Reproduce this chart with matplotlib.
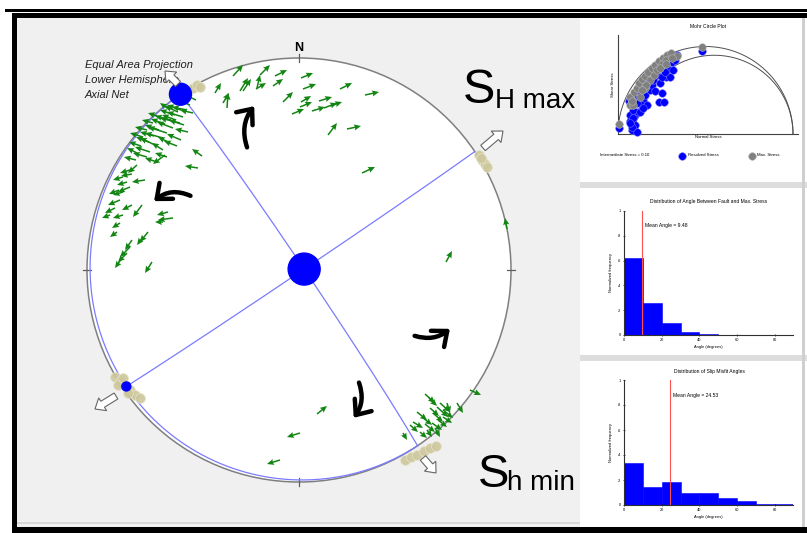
import numpy as np
import matplotlib
matplotlib.use("Agg")
import matplotlib.pyplot as plt
from matplotlib import patches as mpatches

W, H = 807, 533
plt.rcParams['font.family'] = ['Liberation Sans', 'DejaVu Sans']

# ---------------- data ----------------
NET_R = 212  # stereonet radius in plot units

# principal stress axes (trend, plunge) in degrees
sigma1 = (326, 0)
sigma2 = (80, 88)
sigma3 = (236, 2)

# slip vectors on the net: tail position (x east, y north) and arrow components
slip_x = [-66, -84, -76, -72, -59, -56, -42, -43, -39, -24, -26, 2, 4, -16, 2, 1, -7, 20, 13, 25, 31, 41, 66, 29, 48, 63, 208, 147,
          -109, -112, -116, -119, -111, -126, -132, -136, -129, -144, -149, -136, -97, -101, -132, -134, -152, -162,
          -129, -139, -146, -152, -156, -154, -162, -169, -176, -169, -176, -179, -167, -184, -189, -176, -157, -131,
          -126, -136, -179, -182, -151, -156, -167, -169, -172, -177, -147, -103, -106, -121, -123,
          -114, -118, -124, -128, -134, -140, -145, -150, -158, -163, -167, -172, -180, -118, -122, -142, -115,
          126, 130, 171, 158, 141, 118, 123, 114, 111, 104, 134, 144, 133, 136, 128, 121, 138, 144, 148, 131, 139, 126,
          -19, 1, 18]
slip_y = [194, 177, 167, 162, 179, 179, 182, 181, 195, 194, 184, 192, 181, 168, 168, 163, 156, 169, 159, 162, 164, 181, 175, 135, 141, 97, 41, 8,
          165, 160, 153, 147, 138, 142, 137, 132, 127, 125, 118, 120, 114, 102, 113, 115, 113, 117,
          160, 153, 147, 140, 133, 90, 105, 100, 93, 83, 78, 70, 65, 62, 55, 55, 65, 58,
          52, 48, 47, 38, 38, 33, 30, 23, 17, 12, 8, 170, 157, 158, 150,
          166, 160, 155, 150, 146, 140, 134, 128, 124, 110, 96, 88, 80, 130, 124, 108, 145,
          -124, -128, -120, -133, -133, -142, -147, -152, -155, -163, -143, -147, -153, -158, -160, -162, -137, -140, -133, -138, -150, -154,
          -190, -163, -144]
slip_u = [10, 6, 6, 1, 8, 8, 3, 10, 10, 12, 10, 12, 13, 10, 10, 12, 12, 13, 13, 13, 12, 12, 14, 9, 14, 13, -2, 6,
          -13, -15, -16, -20, -13, -16, -19, -18, -12, -15, -15, -11, -10, -13, -12, -12, -14, -10,
          -10, -12, -11, -12, -13, -13, -9, -10, -10, -12, -10, -12, -10, -10, -8, -10, -9, -11,
          -15, -8, -8, -7, -8, -6, -7, -10, -9, -7, -7, -11, -13, -13, -14,
          -14, -14, -15, -16, -14, -14, -14, -13, -12, -12, -11, -10, -10, -14, -13, -12, -15,
          10, 8, 11, 6, 10, 10, 10, 10, 8, 4, 10, 9, 10, 5, 5, 7, 11, 10, 3, 9, 9, 10,
          -13, -13, 10]
slip_v = [11, 10, 10, 15, 13, 12, 13, 6, 10, 6, 7, 5, 5, 10, 6, 5, 5, 4, 4, 5, 4, 6, 3, 12, 3, 6, 11, 11,
          5, 3, 5, 5, 3, 6, 6, 5, 6, 7, 5, 7, 7, 2, 4, -9, 4, 5,
          7, 4, 3, 3, 4, -2, -8, -3, -3, -5, -3, -5, -5, -5, -3, -3, -12, -3,
          -2, 0, -5, -5, -10, -8, -10, -10, -9, -10, -11, 5, 3, 6, 5,
          4, 5, 5, 4, 5, 5, 4, 5, 4, 3, -2, -3, -4, 6, 5, 4, 5,
          -9, -8, -5, -10, -9, -8, -8, -6, -7, -7, -9, -6, -7, -9, -7, -6, -10, -8, -10, -8, -7, -8,
          -4, -4, 8]

# fault-plane pole clusters (tan symbols)
pole_x = [-106, -102, -99, 180, 183, 186, 182, 188, -184, -179, -174, -169, -164, -159, -181, -171, -176,
          106, 112, 118, 125, 131, 137]
pole_y = [182, 185, 183, 115, 110, 106, 112, 103, -107, -111, -115, -120, -125, -128, -115, -123, -108,
          -190, -187, -185, -181, -178, -176]

# Mohr circle plot (normalised: sigma3 = 0, sigma1 = 1)
intermediate_ratio = 0.10
resolved_normal = [0.008, 0.079, 0.097, 0.069, 0.069, 0.097, 0.116, 0.084, 0.065, 0.097, 0.122, 0.145, 0.135, 0.164, 0.154,
                   0.183, 0.192, 0.211, 0.24, 0.25, 0.236, 0.263, 0.274, 0.297, 0.288, 0.316, 0.307, 0.326, 0.335, 0.482,
                   0.221, 0.25, 0.2, 0.164, 0.126, 0.107, 0.126, 0.145, 0.088, 0.107, 0.08, 0.069, 0.269]
resolved_shear = [0.032, 0.023, 0.051, 0.074, 0.109, 0.109, 0.127, 0.137, 0.189, 0.213, 0.232, 0.194, 0.166, 0.166, 0.223,
                  0.251, 0.28, 0.246, 0.29, 0.232, 0.181, 0.181, 0.327, 0.327, 0.371, 0.366, 0.413, 0.423, 0.451, 0.474,
                  0.337, 0.327, 0.309, 0.299, 0.27, 0.175, 0.127, 0.147, 0.09, 0.013, 0.04, 0.061, 0.356]
max_normal = [0.008, 0.069, 0.078, 0.069, 0.091, 0.107, 0.122, 0.135, 0.154, 0.173, 0.193, 0.211, 0.236, 0.259, 0.282,
              0.301, 0.335, 0.482, 0.086, 0.126, 0.154, 0.182, 0.206, 0.225, 0.25, 0.274, 0.307, 0.162, 0.135, 0.080,
              0.240, 0.274]
max_shear = [0.055, 0.166, 0.194, 0.213, 0.238, 0.265, 0.29, 0.313, 0.331, 0.352, 0.375, 0.394, 0.417, 0.436, 0.451,
             0.465, 0.447, 0.50, 0.166, 0.213, 0.261, 0.309, 0.337, 0.366, 0.398, 0.423, 0.434, 0.28, 0.251, 0.189,
             0.379, 0.398]

# histograms
bin_left = [0, 10, 20, 30, 40, 50, 60, 70, 80]
fault_stress_freq = [0.62, 0.255, 0.10, 0.027, 0.007, 0, 0, 0, 0]
misfit_freq = [0.34, 0.147, 0.184, 0.093, 0.099, 0.059, 0.032, 0.005, 0.005]
mean_fault_stress = 9.48
mean_misfit = 24.53
freq_ticks = [0, 0.2, 0.4, 0.6, 0.8, 1]
freq_tick_labels = ['0', '.2', '.4', '.6', '.8', '1']
angle_ticks = [0, 20, 40, 60, 80]

# ---------------- helpers ----------------
fig = plt.figure(figsize=(W / 100, H / 100), dpi=100)
fig.patch.set_facecolor('white')


def px_axes(left, top, right, bottom, **kw):
    return fig.add_axes([left / W, 1 - bottom / H, (right - left) / W, (bottom - top) / H], **kw)


def unit_vec(trend, plunge):
    t, p = np.radians(trend), np.radians(plunge)
    return np.array([np.cos(p) * np.sin(t), np.cos(p) * np.cos(t), np.sin(p)])


def project_vec(v):
    v = np.asarray(v, dtype=float)
    z = v[2]
    f = NET_R / np.sqrt(1 + z)
    return v[0] * f, v[1] * f


def great_circle(a, b, n=300):
    nrm = np.cross(a, b)
    nrm /= np.linalg.norm(nrm)
    h = np.cross(nrm, [0, 0, 1.0])
    h /= np.linalg.norm(h)
    d = np.cross(nrm, h)
    if d[2] < 0:
        d = -d
    t = np.linspace(0, np.pi, n)
    pts = np.outer(np.cos(t), h) + np.outer(np.sin(t), d)
    return project_vec(pts.T)


# ---------------- frame ----------------
bg = fig.add_axes([0, 0, 1, 1])
bg.set_xlim(0, W)
bg.set_ylim(H, 0)
bg.axis('off')
for (x, y, w, h, c) in [(5, 9, 802, 2.5, 'black'), (12, 13, 795, 5, 'black'), (12, 13, 5, 520, 'black'),
                        (12, 527, 795, 6, 'black'), (580, 182, 227, 6, '#dddddd'), (580, 355, 227, 6, '#dddddd'),
                        (802, 18, 3, 509, '#cfcfcf')]:
    bg.add_patch(mpatches.Rectangle((x, y), w, h, color=c, lw=0))

# ---------------- stereonet ----------------
ax = px_axes(17, 18, 580, 527)
ax.set_facecolor('#f0f0f0')
ax.set_xlim(17 - 299, 580 - 299)
ax.set_ylim(270 - 527, 270 - 18)
ax.set_xticks([])
ax.set_yticks([])
for s in ax.spines.values():
    s.set_visible(False)
ax.axhline(270 - 523, color='#d2d2d2', lw=1.2)

ax.add_patch(mpatches.Circle((0, 0), NET_R, facecolor='white', edgecolor='#7f7f7f', lw=1.1, zorder=1))
for tr in [0, 90, 180, 270]:
    tx, ty = np.sin(np.radians(tr)), np.cos(np.radians(tr))
    ax.plot([tx * (NET_R - 4), tx * (NET_R + 4)], [ty * (NET_R - 4), ty * (NET_R + 4)], color='#606060', lw=0.9, zorder=2)
ax.text(0, NET_R + 10, 'N', ha='center', va='center', fontsize=9, fontweight='bold', zorder=3)

v1, v2, v3 = unit_vec(*sigma1), unit_vec(*sigma2), unit_vec(*sigma3)
for a, b in [(v1, v2), (v3, v2), (v1, v3)]:
    gx, gy = great_circle(a, b)
    ax.plot(gx, gy, color='#7b7bff', lw=0.9, zorder=2)

ax.scatter(pole_x, pole_y, s=50, c='#cdc79c', edgecolors='#e6e2c8', linewidths=0.6, alpha=0.9, zorder=3)

for v, r in [(v1, 11), (v2, 16), (v3, 4.5)]:
    px, py = project_vec(v)
    ax.add_patch(mpatches.Circle((px, py), r, color='#0000ff', zorder=5))

ax.quiver(slip_x, slip_y, slip_u, slip_v, angles='xy', scale_units='xy', scale=1, color='#128512',
          width=0.0027, headwidth=4.0, headlength=4.5, headaxislength=4.0, zorder=4)

# black curved arrows (sense of rotation)
for tail, head, rad in [((-51, 120), (-43, 166), -0.3), ((-106, 73), (-147, 67), 0.35),
                        ((113, -65), (153, -57), 0.3), ((59, -110), (53, -150), -0.3)]:
    ax.add_patch(mpatches.FancyArrowPatch(tail, head, connectionstyle=f'arc3,rad={rad}',
                                          arrowstyle='->,head_length=0.6,head_width=0.5', mutation_scale=15,
                                          lw=3.2, color='black', zorder=6))

# text block
for i, line in enumerate(['Equal Area Projection', 'Lower Hemisphere', 'Axial Net']):
    ax.text(-214, 205 - 15 * i, line, fontsize=8, style='italic', color='#202020', va='center', ha='left', zorder=3)

# hollow stress-direction arrows
for (x, y, dx, dy) in [(184, 122, 20, 17), (-183, -126, -21, -13), (124, -188, 13, -15), (-121, 186, -13, 13)]:
    ax.add_patch(mpatches.FancyArrow(x, y, dx, dy, width=7, head_width=15, head_length=9, length_includes_head=True,
                                     facecolor='white', edgecolor='#666666', lw=0.8, zorder=7))

ax.text(164, 167, 'S', fontsize=35, va='baseline', ha='left')
ax.text(196, 162, 'H max', fontsize=20, va='baseline', ha='left')
ax.text(179, -217, 'S', fontsize=34, va='baseline', ha='left')
ax.text(208, -220, 'h min', fontsize=20, va='baseline', ha='left')

# ---------------- Mohr circle panel ----------------
SMALL = 3.6
mx = px_axes(618, 35, 798, 134)
mx.set_xlim(0, 180 / 175)
mx.set_ylim(0, 99 / 175)
mx.set_facecolor('none')
for s in ['top', 'right']:
    mx.spines[s].set_visible(False)
for s in ['left', 'bottom']:
    mx.spines[s].set_linewidth(0.8)
    mx.spines[s].set_color('#404040')
mx.set_xticks([])
mx.set_yticks([])
th = np.linspace(0, np.pi, 200)
mx.plot(0.5 + 0.5 * np.cos(th), 0.5 * np.sin(th), color='#505050', lw=0.7)
c2 = (1 + intermediate_ratio) / 2
r2 = (1 - intermediate_ratio) / 2
mx.plot(c2 + r2 * np.cos(th), r2 * np.sin(th), color='#505050', lw=0.7)
mx.scatter(resolved_normal, resolved_shear, s=30, c='#0000ff', edgecolors='#7070ff', linewidths=0.4, clip_on=False, zorder=3)
mx.scatter(max_normal, max_shear, s=30, c='#808080', edgecolors='#b8b8b8', linewidths=0.4, clip_on=False, zorder=4)
mx.set_title('Mohr Circle Plot', fontsize=SMALL, pad=5)
mx.set_xlabel('Normal Stress', fontsize=SMALL * 0.85, labelpad=1)
mx.set_ylabel('Shear Stress', fontsize=SMALL * 0.85, labelpad=2)

lg = dict(fontsize=SMALL * 0.85, va='center', ha='left', transform=bg.transData)
bg.text(600, 155.5, f'Intermediate Stress = {intermediate_ratio:.2f}', **lg)
bg.scatter([682], [155.7], s=30, c='#0000ff', edgecolors='#7070ff', linewidths=0.4)
bg.text(688, 155.5, 'Resolved Stress', **lg)
bg.scatter([752], [155.7], s=30, c='#808080', edgecolors='#b8b8b8', linewidths=0.4)
bg.text(757, 155.5, 'Max. Stress', **lg)


# ---------------- histograms ----------------
def hist_panel(top, bottom, freqs, mean, title, title_y):
    hx = px_axes(624, top, 793, bottom)
    hx.set_xlim(0, 89.6)
    hx.set_ylim(0, 1)
    hx.set_facecolor('none')
    hx.bar(bin_left, freqs, width=10, align='edge', color='#0000ff', edgecolor='#0000ff', lw=0.4)
    hx.axvline(mean, color='#ff5050', lw=0.8)
    hx.text(mean + 1.7, 0.88, f'Mean Angle = {mean:.2f}', fontsize=SMALL, va='center', ha='left')
    for s in ['top', 'right']:
        hx.spines[s].set_visible(False)
    for s in ['left', 'bottom']:
        hx.spines[s].set_linewidth(0.8)
        hx.spines[s].set_color('#303030')
    hx.set_yticks(freq_ticks)
    hx.set_yticklabels(freq_tick_labels)
    hx.set_xticks(angle_ticks)
    hx.tick_params(labelsize=2.8, length=2, width=0.5, direction='inout', pad=1.5)
    hx.set_xlabel('Angle (degrees)', fontsize=SMALL * 0.8, labelpad=1.5)
    hx.set_ylabel('Normalized frequency', fontsize=SMALL * 0.8, labelpad=3)
    bg.text(709, title_y, title, fontsize=SMALL, ha='center', va='center')
    return hx


hist_panel(211, 335, fault_stress_freq, mean_fault_stress, 'Distribution of Angle Between Fault and Max. Stress', 201)
hist_panel(380, 505, misfit_freq, mean_misfit, 'Distribution of Slip Misfit Angles', 371)

fig.savefig('out.png', dpi=100)
